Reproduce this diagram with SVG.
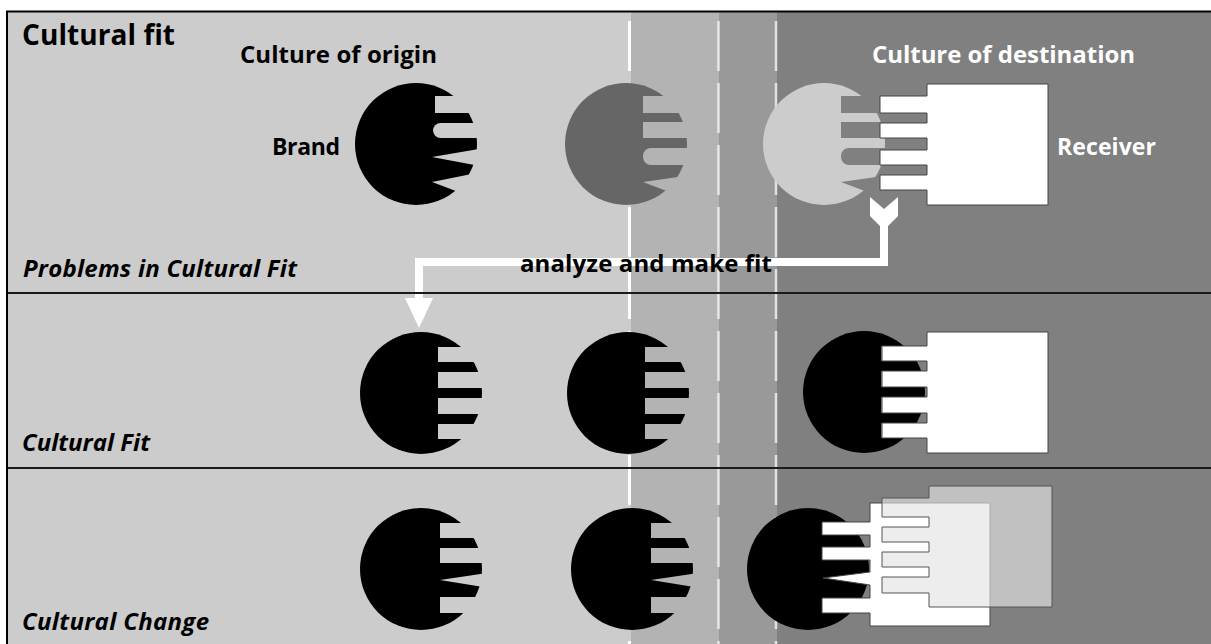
<svg xmlns="http://www.w3.org/2000/svg" width="1211" height="644" viewBox="0 0 1211 644">
<style>
.t{font-family:'Open Sans','Noto Sans','Liberation Sans',sans-serif;font-weight:bold;fill:#000}
.it{font-style:italic}
.w{fill:#fff}
.rcv{fill:#fff;stroke:#444;stroke-width:1}
.div{stroke:#1a1a1a;stroke-width:2}
.dash{stroke:#fff;stroke-width:3;stroke-dasharray:50 12;fill:none}
.dash2{stroke:#fff;stroke-width:2.5;stroke-opacity:0.7;stroke-dasharray:50 12;fill:none}
.arrow{stroke:#fff;stroke-width:8;fill:none}
</style>
<defs>
<mask id="mFit"><rect x="-80" y="-80" width="160" height="160" fill="#fff"/><g fill="#000"><rect x="17" y="-46" width="60" height="15"/><rect x="17" y="-21" width="60" height="16"/><rect x="17" y="5" width="60" height="16"/><rect x="17" y="31" width="60" height="15"/></g></mask>
<mask id="mA"><rect x="-80" y="-80" width="160" height="160" fill="#fff"/><g fill="#000"><rect x="19" y="-48" width="60" height="17"/><rect x="17" y="-21" width="70" height="15" rx="7.5"/><polygon points="16,13 80,2 80,25"/><polygon points="16,38 80,25 80,62"/></g></mask>
<mask id="mB"><rect x="-80" y="-80" width="160" height="160" fill="#fff"/><g fill="#000"><rect x="17" y="-48" width="60" height="17"/><rect x="17" y="-22" width="60" height="16"/><rect x="17" y="4" width="70" height="17" rx="8"/><polygon points="17,38 80,29 80,62"/></g></mask>
<mask id="mC"><rect x="-80" y="-80" width="160" height="160" fill="#fff"/><g fill="#000"><rect x="19" y="-46" width="60" height="15"/><rect x="19" y="-21" width="60" height="15"/><polygon points="19,11 80,2 80,21"/><rect x="19" y="28" width="60" height="16"/></g></mask>
</defs>

<g id="background">
<rect x="0" y="0" width="1211" height="644" fill="#fff"/>
<rect x="7" y="12" width="624" height="632" fill="#cccccc"/>
<rect x="631" y="12" width="88" height="632" fill="#b3b3b3"/>
<rect x="719" y="12" width="58" height="632" fill="#999999"/>
<rect x="777" y="12" width="434" height="632" fill="#808080"/>
<line class="dash" x1="629.5" y1="21" x2="629.5" y2="644"/>
<line class="dash2" x1="718.5" y1="21" x2="718.5" y2="644"/>
<line class="dash2" x1="776" y1="21" x2="776" y2="644"/>
</g>

<g id="labels">
<text class="t" x="22" y="45" font-size="28" textLength="153">Cultural fit</text>
<text class="t" x="240" y="63" font-size="24" textLength="197">Culture of origin</text>
<text class="t w" x="872" y="63" font-size="24" textLength="263">Culture of destination</text>
<text class="t" x="272" y="155" font-size="23" textLength="68">Brand</text>
<text class="t w" x="1057" y="155" font-size="23" textLength="99">Receiver</text>
<text class="t it" x="23" y="277" font-size="24" textLength="274">Problems in Cultural Fit</text>
<text class="t it" x="22" y="451" font-size="24" textLength="128">Cultural Fit</text>
<text class="t it" x="22" y="630" font-size="24" textLength="187">Cultural Change</text>
</g>

<g id="row1">
<g id="brand-r1-1" transform="translate(416,144)"><circle r="61" fill="#000" mask="url(#mA)"/></g>
<g id="brand-r1-2" transform="translate(626,144)"><circle r="61" fill="#666666" mask="url(#mB)"/></g>
<g id="brand-r1-3" transform="translate(824,144)"><circle r="61" fill="#cccccc" mask="url(#mB)"/></g>
<g id="receiver-r1"><polygon class="rcv" points="927,84 1048,84 1048,205 927,205 927,190 880,190 880,175 927,175 927,165 880,165 880,150 927,150 927,138 880,138 880,123 927,123 927,113 880,113 880,96 927,96"/></g>
</g>

<g id="row2">
<g id="brand-r2-1" transform="translate(421,393)"><circle r="61" fill="#000" mask="url(#mFit)"/></g>
<g id="brand-r2-2" transform="translate(628,393)"><circle r="61" fill="#000" mask="url(#mFit)"/></g>
<g id="brand-r2-3" transform="translate(864,392)"><circle r="61" fill="#000" mask="url(#mFit)"/></g>
<g id="receiver-r2"><polygon class="rcv" points="927,332 1048,332 1048,453 927,453 927,438 882,438 882,423 927,423 927,413 882,413 882,397 927,397 927,387 882,387 882,371 927,371 927,361 882,361 882,346 927,346"/></g>
</g>

<g id="row3">
<g id="brand-r3-1" transform="translate(421,569)"><circle r="61" fill="#000" mask="url(#mC)"/></g>
<g id="brand-r3-2" transform="translate(632,569)"><circle r="61" fill="#000" mask="url(#mC)"/></g>
<g id="brand-r3-3" transform="translate(808,569)"><circle r="61" fill="#000"/></g>
<g id="receiver-r3-front"><polygon class="rcv" points="870,503 990,503 990,626 870,626 870,613 822,613 822,598 870,598 870,585 823,578 870,572 870,560 822,560 822,547 870,547 870,535 822,535 822,522 870,522"/></g>
<g id="receiver-r3-back"><polygon points="929,486 1052,486 1052,607 929,607 929,593 882,593 882,577 929,577 929,567 882,567 882,552 929,552 929,542 882,542 882,527 929,527 929,517 882,517 882,498 929,498" fill="#e3e3e3" fill-opacity="0.65" stroke="#555" stroke-width="1"/></g>
</g>

<g id="connectors">
<path class="arrow" d="M884 222 V262 H419 V300"/>
<polygon points="870,197 884,209 898,197 898,216 888,226 880,226 870,216" fill="#fff"/>
<polygon points="405,298 433,298 419,328" fill="#fff"/>
<text class="t" x="520" y="272" font-size="24" textLength="252">analyze and make fit</text>
</g>

<g id="frame">
<line class="div" x1="7" y1="293" x2="1211" y2="293"/>
<line class="div" x1="7" y1="468" x2="1211" y2="468"/>
<polyline points="7,644 7,11.5 1211,11.5" fill="none" stroke="#000" stroke-width="2"/>
</g>
</svg>
